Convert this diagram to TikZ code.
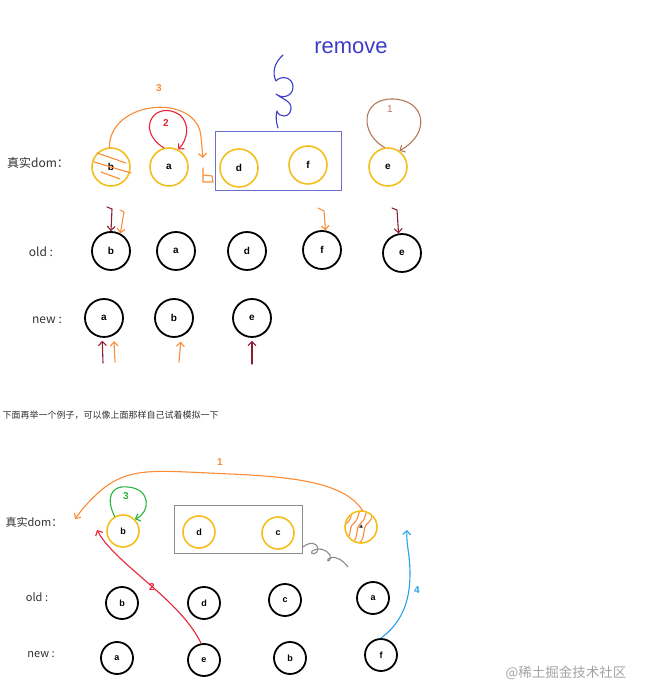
\documentclass[tikz,border=0pt]{standalone}
\usepackage{fontspec}
\setmainfont{Liberation Sans}
\newfontfamily\cjk{Noto Sans CJK SC}
\usetikzlibrary{arrows.meta}
\definecolor{ringyellow}{RGB}{243,190,30}
\definecolor{penorange}{RGB}{250,140,55}
\definecolor{penred}{RGB}{230,35,55}
\definecolor{penmaroon}{RGB}{140,30,50}
\definecolor{penbrown}{RGB}{180,120,90}
\definecolor{penblue}{RGB}{60,60,200}
\definecolor{boxblue}{RGB}{110,110,210}
\definecolor{pengreen}{RGB}{40,180,60}
\definecolor{pengray}{RGB}{140,140,140}
\definecolor{pensky}{RGB}{40,160,230}
\definecolor{labelgray}{RGB}{50,50,50}
\begin{document}
\begin{tikzpicture}[x=1pt,y=1pt,
    real/.style={circle,draw=ringyellow,line width=1.6pt,minimum size=38pt,inner sep=0pt,font=\bfseries\fontsize{10}{10}\selectfont},
    vnode/.style={circle,draw=black,line width=1.8pt,minimum size=38pt,inner sep=0pt,font=\bfseries\fontsize{10}{10}\selectfont},
    realsm/.style={real,minimum size=32pt,font=\bfseries\fontsize{9}{9}\selectfont},
    vnodesm/.style={vnode,minimum size=32pt,font=\bfseries\fontsize{9}{9}\selectfont},
    rowlabel/.style={text=labelgray,font=\cjk\fontsize{12}{12}\selectfont},
    pen/.style={line width=1.1pt,line cap=round,line join=round},
    tip/.style={-{Straight Barb[length=4pt,width=8pt]}},
    count/.style={font=\bfseries\fontsize{10}{10}\selectfont}]
  \useasboundingbox (0,0) rectangle (647,699);

  % first example
  \node[rowlabel] (lreal) at (38,536) {真实dom：};
  \node[real] (rb) at (111,532) {b};
  \node[real] (ra) at (169,532) {a};
  \node[real] (rd) at (239,531) {d};
  \node[real] (rf) at (308,534) {f};
  \node[real] (re) at (388,532) {e};
  \draw[boxblue,line width=0.8pt] (215,509) rectangle (341,568);

  \node[rowlabel] (lold) at (41,447) {old :};
  \node[vnode] (ob) at (111,448) {b};
  \node[vnode] (oa) at (176,448) {a};
  \node[vnode] (od) at (247,448) {d};
  \node[vnode] (of) at (322,449) {f};
  \node[vnode] (oe) at (402,446) {e};

  \node[rowlabel] (lnew) at (47,379) {new :};
  \node[vnode] (na) at (104,381) {a};
  \node[vnode] (nb) at (174,381) {b};
  \node[vnode] (ne) at (252,381) {e};

  % hatching on b
  \draw[penorange,pen] (97,546) -- (126,536) (94,537) -- (131,526) (101,527) -- (120,520);

  % moves
  \draw[penorange,pen,tip] (rb.95) .. controls (110,600) and (198,606) .. (201,562) -- (203,541);
  \draw[penorange,pen] (203,531) -- (203,517) -- (213,517) -- (212,523) -- (203,524);
  \node[count,text=penorange] (n3) at (159,611) {3};
  \draw[penred,pen,tip] (ra.105) .. controls (134,570) and (156,600) .. (180,584) .. controls (190,575) and (188,560) .. (ra.62);
  \node[count,text=penred] (n2) at (166,576) {2};
  \draw[penbrown,pen,tip] (re.100) .. controls (360,565) and (360,600) .. (392,600) .. controls (425,600) and (432,566) .. (re.55);
  \node[count,text=penbrown,font=\fontsize{10}{10}\selectfont] (n1) at (390,590) {1};

  % remove mark
  \draw[penblue,pen] (283,644) .. controls (274,636) and (272,626) .. (276,618)
    .. controls (281,624) and (293,622) .. (293,612)
    .. controls (293,602) and (281,600) .. (276,605)
    .. controls (282,600) and (292,598) .. (291,590)
    .. controls (290,581) and (279,581) .. (277,588)
    .. controls (275,580) and (277,575) .. (278,571);
  \node[text=penblue,font=\fontsize{22}{22}\selectfont] (rm) at (351,651) {remove};

  % pointers
  \draw[penmaroon,pen,tip] (107,492) -- (112,490) -- (ob.north);
  \draw[penorange,pen,tip] (120,489) -- (124,487) -- (ob.62);
  \draw[penorange,pen,tip] (318,491) -- (324,488) -- (of.80);
  \draw[penmaroon,pen,tip] (392,491) -- (397,489) -- (oe.100);
  \draw[penmaroon,pen,tip] (103,336) -- ([yshift=-3pt]na.265);
  \draw[penorange,pen,tip] (115,337) -- ([yshift=-6pt]na.300);
  \draw[penorange,pen,tip] (179,337) -- ([yshift=-5pt]nb.290);
  \draw[penmaroon,pen,tip] (252,335) -- ([yshift=-3pt]ne.south);

  \node[anchor=west,text=labelgray,font=\cjk\fontsize{9}{9}\selectfont] (note) at (-1,284) {下面再举一个例子，可以像上面那样自己试着模拟一下};

  % second example
  \node[rowlabel,font=\cjk\fontsize{11}{11}\selectfont] (Lreal) at (34,177) {真实dom：};
  \node[realsm] (Rb) at (123,168) {b};
  \node[realsm] (Rd) at (199,167) {d};
  \node[realsm] (Rc) at (278,166) {c};
  \node[realsm,font=\bfseries\fontsize{6}{6}\selectfont] (Ra) at (361,172) {a};
  \draw[pengray,line width=0.8pt] (174,146) rectangle (302,194);
  \begin{scope}
    \clip (Ra.center) circle (15pt);
    \foreach \dx in {-16,-9,-2,5,12} {
      \draw[penorange,pen] (347+\dx,156) .. controls (355+\dx,162) and (349+\dx,170) .. (356+\dx,176)
        .. controls (363+\dx,182) and (358+\dx,188) .. (366+\dx,194);
    }
  \end{scope}

  \node[rowlabel,font=\cjk\fontsize{11}{11}\selectfont] (Lold) at (37,102) {old :};
  \node[vnodesm] (Ob) at (122,96) {b};
  \node[vnodesm] (Od) at (204,96) {d};
  \node[vnodesm] (Oc) at (285,99) {c};
  \node[vnodesm] (Oa) at (373,101) {a};

  \node[rowlabel,font=\cjk\fontsize{11}{11}\selectfont] (Lnew) at (41,44) {new :};
  \node[vnodesm] (Na) at (117,41) {a};
  \node[vnodesm] (Ne) at (204,39) {e};
  \node[vnodesm] (Nb) at (290,41) {b};
  \node[vnodesm] (Nf) at (381,44) {f};

  \coordinate (headslot) at (75,180);
  \coordinate (bslot) at (97,169);
  \coordinate (aslot) at (407,169);

  \draw[penorange,pen,tip] (Ra.85) .. controls (345,215) and (300,222) .. (230,225) .. controls (160,228) and (135,232) .. (108,214) .. controls (95,205) and (82,190) .. (headslot);
  \node[count,text=penorange] (m1) at (220,237) {1};
  \draw[pengreen,pen,tip] (Rb.120) .. controls (106,200) and (110,214) .. (128,212) .. controls (152,210) and (150,186) .. (Rb.45);
  \node[count,text=pengreen] (m3) at (126,203) {3};
  \draw[penred,pen,tip] (Ne.100) .. controls (180,100) and (115,135) .. (bslot);
  \node[count,text=penred] (m2) at (152,112) {2};
  \draw[pensky,pen,tip] (Nf.north) .. controls (400,75) and (410,95) .. (410,125) .. controls (410,145) and (406,155) .. (aslot);
  \node[count,text=pensky] (m4) at (417,109) {4};
  \draw[pengray,pen] (303,152) .. controls (310,158) and (318,156) .. (318,150) .. controls (318,144) and (309,144) .. (312,148)
    .. controls (318,152) and (326,150) .. (330,144) .. controls (332,138) and (326,136) .. (328,140) .. controls (334,144) and (342,140) .. (348,132);

  \node[text=pengray!80,font=\cjk\fontsize{13.5}{13.5}\selectfont] (mark) at (566,26) {@稀土掘金技术社区};
\end{tikzpicture}
\end{document}
